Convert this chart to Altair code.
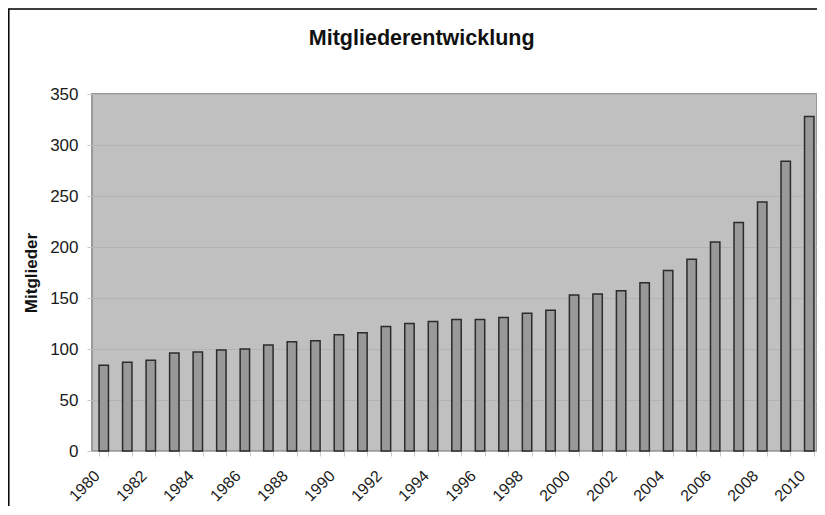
import altair as alt
import pandas as pd

years = ["1980", "1981", "1982", "1983", "1984", "1985", "1986", "1987", "1988", "1989",
         "1990", "1991", "1992", "1993", "1994", "1995", "1996", "1997", "1998", "1999",
         "2000", "2001", "2002", "2003", "2004", "2005", "2006", "2007", "2008", "2009",
         "2010"]
members = [84, 87, 89, 96, 97, 99, 100, 104, 107, 108,
           114, 116, 122, 125, 127, 129, 129, 131, 135, 138,
           153, 154, 157, 165, 177, 188, 205, 224, 244, 284,
           328]
y_ticks = [0, 50, 100, 150, 200, 250, 300, 350]
chart_title = "Mitgliederentwicklung"

df = pd.DataFrame({"Jahr": years, "Mitglieder": members})

W, H = 725, 357
FONT = "Liberation Sans"

bars = alt.Chart(df).mark_bar(fill="#999999", stroke="#2b2b2b", strokeWidth=1.5).encode(
    x=alt.X("Jahr:O", sort=years,
            scale=alt.Scale(paddingInner=0.6, paddingOuter=0.3, range=[0, 729]),
            axis=alt.Axis(title=None, labelAngle=-45, labelAlign="right", labelBaseline="middle",
                          labelExpr="toNumber(datum.value) % 2 == 0 ? datum.label : ''",
                          tickBand="extent", tickSize=5, tickColor="#c8c8c8", domain=False,
                          labelPadding=17, labelOffset=-7, labelFontSize=16, labelColor="#1a1a1a",
                          labelFont=FONT, grid=False, labelOverlap=False)),
    y=alt.Y("Mitglieder:Q", scale=alt.Scale(domain=[0, 350], nice=False),
            axis=alt.Axis(values=y_ticks, title="Mitglieder", titleFont=FONT, titleFontSize=17,
                          titleFontWeight="bold", titleColor="#111111",
                          titleX=-56, titleY=H / 2, titleBaseline="alphabetic", titleAngle=270,
                          titleAlign="center",
                          tickSize=5, tickColor="#c8c8c8", domain=False, labelPadding=9,
                          labelFontSize=17, labelFont=FONT, labelColor="#1a1a1a",
                          gridColor="#b3b3b3", gridWidth=1))
)

one = alt.Data(values=[{"t": chart_title}])

frame = alt.Chart(one).mark_rect(
    fillOpacity=0, stroke="black", strokeWidth=1.5, clip=False
).encode(
    x=alt.value(-83.2), x2=alt.value(W + 20), y=alt.value(-85), y2=alt.value(H + 80)
)

title = alt.Chart(one).mark_text(
    font=FONT, fontSize=21.5, fontWeight="bold", color="#111111",
    align="center", baseline="alphabetic", clip=False
).encode(
    text="t:N", x=alt.value(329.7), y=alt.value(-49.5)
)

chart = alt.layer(bars, frame, title).properties(
    width=W, height=H,
    padding={"left": 84, "top": 86, "right": 0, "bottom": 55},
    autosize=alt.AutoSizeParams(type="none"),
    background="white",
).configure_view(fill="#c0c0c0", stroke="#999999", strokeWidth=2)

chart.save("out.html", embed_options={"renderer": "svg", "actions": False})
